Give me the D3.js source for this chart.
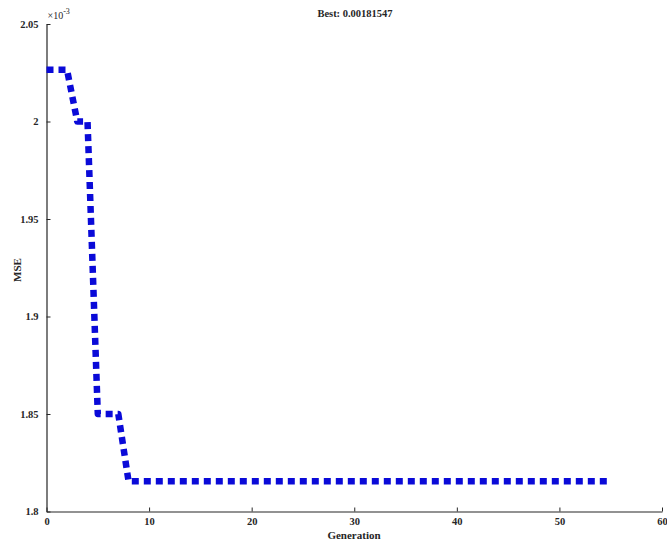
<!DOCTYPE html>
<html>
<head>
<meta charset="utf-8">
<script src="https://cdn.jsdelivr.net/npm/d3@7"></script>
<style>
  html, body { margin: 0; padding: 0; background: #fff; }
  svg text { font-family: "Liberation Serif", "Times New Roman", serif; font-weight: bold; fill: #262626; }
</style>
</head>
<body>
<svg id="chart" width="667" height="543"></svg>
<script>
// Best fitness (MSE, x1e-3) for each GA generation
const generations = d3.range(0, 56);
const bestMse = [
  2.0265, 2.0265, 2.0265, 2.0000, 2.0000,
  1.8500, 1.8500, 1.8500,
  ...Array(48).fill(1.81547)
];
const xTicks = [0, 10, 20, 30, 40, 50, 60];
const yTicks = [1.8, 1.85, 1.9, 1.95, 2.0, 2.05];
const titleText = "Best: 0.00181547";
const xLabel = "Generation";
const yLabel = "MSE";

const svg = d3.select("#chart");
const margin = { left: 46.5, right: 5, top: 24, bottom: 31.5 };
const W = 667, H = 543;

const x = d3.scaleLinear().domain([0, 60]).range([margin.left, W - margin.right]);
const y = d3.scaleLinear().domain([1.8, 2.05]).range([H - margin.bottom, margin.top]);

// Axes with inward ticks
const xAxis = d3.axisBottom(x).tickValues(xTicks).tickSizeInner(-4).tickSizeOuter(0)
  .tickFormat(d3.format("d")).tickPadding(8);
const yAxis = d3.axisLeft(y).tickValues(yTicks).tickSizeInner(-4).tickSizeOuter(0)
  .tickFormat(d => d3.format("")(+d.toFixed(2))).tickPadding(8);

const gx = svg.append("g").attr("transform", `translate(0,${H - margin.bottom})`).call(xAxis);
const gy = svg.append("g").attr("transform", `translate(${margin.left},0)`).call(yAxis);

[gx, gy].forEach(g => {
  g.select(".domain").attr("stroke", "#262626").attr("stroke-width", 1.2);
  g.selectAll(".tick line").attr("stroke", "#262626").attr("stroke-width", 1);
  g.selectAll(".tick text").style("font-size", "10.5px").attr("fill", "#262626");
});
gx.selectAll(".tick text").attr("dy", "0.55em");
gy.selectAll(".tick text").attr("dx", "0");

// Best-fitness curve
const line = d3.line()
  .x((d, i) => x(generations[i]))
  .y(d => y(d));

svg.append("path")
  .datum(bestMse)
  .attr("d", line)
  .attr("fill", "none")
  .attr("stroke", "#0a0ad8")
  .attr("stroke-width", 6.5)
  .attr("stroke-dasharray", "7,5")
  .attr("stroke-linejoin", "round");

// Exponent marker
const ex = svg.append("text").attr("x", margin.left + 1).attr("y", 19)
  .style("font-size", "10px").style("font-weight", "normal");
ex.append("tspan").text("\u00d710");
ex.append("tspan").attr("dy", -5).style("font-size", "8px").text("-3");

// Title
svg.append("text")
  .attr("x", 355).attr("y", 17)
  .attr("text-anchor", "middle")
  .style("font-size", "10.5px")
  .text(titleText);

// Axis labels
svg.append("text")
  .attr("x", 354).attr("y", 539)
  .attr("text-anchor", "middle")
  .style("font-size", "11px")
  .text(xLabel);

svg.append("text")
  .attr("transform", "translate(21,270) rotate(-90)")
  .attr("text-anchor", "middle")
  .style("font-size", "11px")
  .text(yLabel);
</script>
</body>
</html>
